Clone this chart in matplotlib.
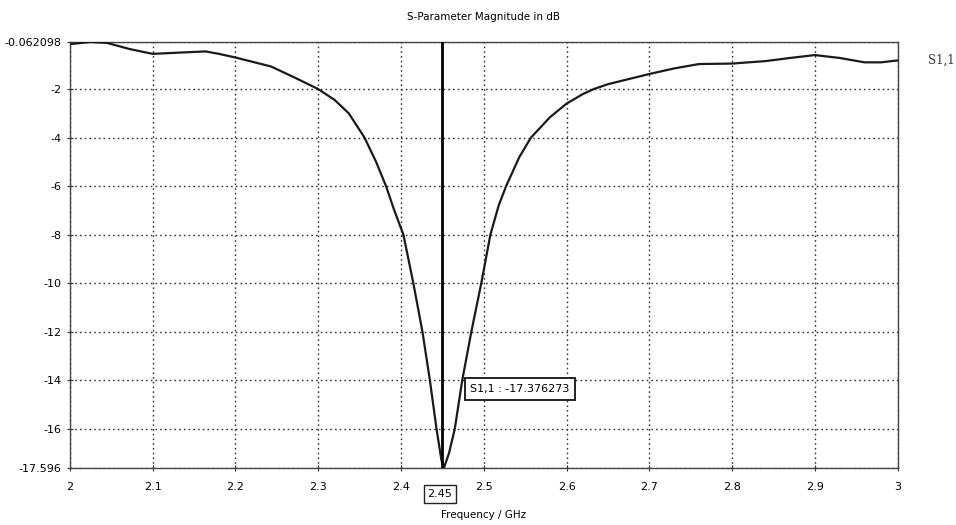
import matplotlib
matplotlib.use("Agg")
import matplotlib.pyplot as plt

# S11 curve (GHz, dB)
freq = [2.000, 2.025, 2.045, 2.072, 2.100, 2.132, 2.164, 2.180, 2.200, 2.243, 2.270,
        2.300, 2.320, 2.337, 2.356, 2.370, 2.382, 2.392, 2.403, 2.415, 2.426,
        2.435, 2.443, 2.449, 2.452, 2.458, 2.465, 2.474, 2.485, 2.497, 2.508,
        2.518, 2.527, 2.543, 2.557, 2.580, 2.600, 2.620, 2.633, 2.650, 2.700,
        2.730, 2.760, 2.800, 2.840, 2.870, 2.900, 2.930, 2.960, 2.980, 3.000]
s11 = [-0.15, -0.062, -0.1, -0.35, -0.55, -0.5, -0.45, -0.55, -0.7, -1.07, -1.5,
       -2.0, -2.45, -3.0, -4.0, -5.0, -6.0, -7.0, -8.0, -10.0, -12.0,
       -14.0, -16.0, -17.3, -17.596, -17.0, -16.0, -14.0, -12.0, -10.0, -8.0,
       -6.8, -6.0, -4.8, -4.0, -3.16, -2.6, -2.2, -2.0, -1.8, -1.38,
       -1.15, -0.97, -0.95, -0.85, -0.72, -0.6, -0.72, -0.9, -0.9, -0.82]

x_ticks = [2.0, 2.1, 2.2, 2.3, 2.4, 2.5, 2.6, 2.7, 2.8, 2.9, 3.0]
x_tick_labels = ["2", "2.1", "2.2", "2.3", "2.4", "2.5", "2.6", "2.7", "2.8", "2.9", "3"]
y_ticks = [-0.062098, -2, -4, -6, -8, -10, -12, -14, -16, -17.596]
y_tick_labels = ["-0.062098", "-2", "-4", "-6", "-8", "-10", "-12", "-14", "-16", "-17.596"]

marker_freq = 2.45
marker_label = "S1,1 : -17.376273"

plt.rcParams["font.family"] = ["DejaVu Sans"]

fig = plt.figure(figsize=(9.56, 5.25), dpi=100)
ax = fig.add_axes([0.073, 0.109, 0.866, 0.811])

ax.plot(freq, s11, color="#1a1a1a", linewidth=1.6, zorder=3)
ax.axvline(marker_freq, color="black", linewidth=2.0, zorder=4)

ax.set_xlim(2.0, 3.0)
ax.set_ylim(-17.596, -0.062098)
ax.set_xticks(x_ticks)
ax.set_xticklabels(x_tick_labels)
ax.set_yticks(y_ticks)
ax.set_yticklabels(y_tick_labels)
ax.tick_params(axis="both", labelsize=8, direction="inout", length=5, color="#333333")
ax.tick_params(axis="x", pad=8)
ax.grid(True, color="#333333", linestyle=(0, (1.2, 2.2)), linewidth=1.0)

for s in ax.spines.values():
    s.set_color("#444444")
    s.set_linewidth(1.0)

# boxed marker frequency under the axis
ax.text(marker_freq - 0.003, -0.05, "2.45", transform=ax.get_xaxis_transform(),
        ha="center", va="top", fontsize=8,
        bbox=dict(boxstyle="square,pad=0.35", fc="white", ec="#222222", lw=1.0))

# marker value box
ax.text(marker_freq + 0.034, -14.35, marker_label, ha="left", va="center", fontsize=8,
        bbox=dict(boxstyle="square,pad=0.5", fc="white", ec="#222222", lw=1.4), zorder=5)

ax.set_title("S-Parameter Magnitude in dB", fontsize=7.5, pad=16)
ax.set_xlabel("Frequency / GHz", fontsize=7.5, labelpad=13)
ax.text(1.037, s11[-1], "S1,1", transform=ax.get_yaxis_transform(),
        ha="left", va="center", fontsize=8.5, color="#333333", family="DejaVu Serif")

fig.savefig("out.png", dpi=100)
plt.close(fig)
